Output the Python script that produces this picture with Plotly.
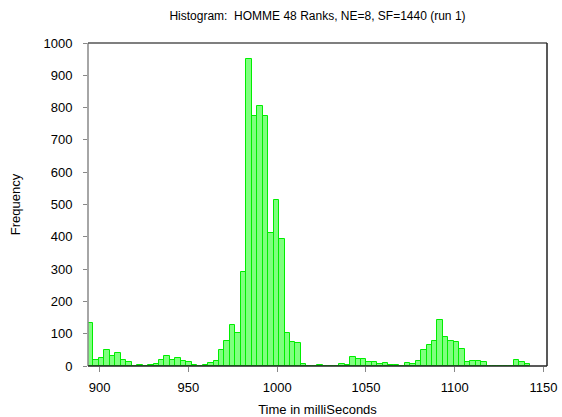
import plotly.graph_objects as go

# Histogram bins (regular width) and counts
bin_start = 893.4
bin_width = 3.076
counts = [
    134, 18, 24, 51, 31, 41, 18, 13, 0, 2,
    0, 2, 5, 20, 31, 18, 24, 15, 12, 2,
    0, 3, 9, 16, 49, 77, 128, 101, 291, 950,
    773, 805, 775, 412, 515, 393, 101, 75, 70, 6,
    0, 0, 3, 0, 0, 0, 6, 2, 27, 21,
    21, 13, 11, 6, 8, 2, 2, 0, 8, 5,
    15, 49, 64, 77, 142, 89, 77, 74, 52, 12,
    16, 16, 11, 0, 0, 0, 0, 0, 19, 13,
    6,
]
x_ticks = [900, 950, 1000, 1050, 1100, 1150]
y_ticks = [0, 100, 200, 300, 400, 500, 600, 700, 800, 900, 1000]

centers = [bin_start + bin_width * (i + 0.5) for i in range(len(counts))]

fig = go.Figure()
fig.add_trace(go.Bar(
    x=centers, y=counts, width=[bin_width] * len(counts),
    marker=dict(color="rgba(0,255,0,0.5)", line=dict(color="#00ee00", width=1)),
))

font = "Liberation Sans, Arial, sans-serif"
fig.update_layout(
    width=562, height=417,
    margin=dict(l=88, r=15, t=43, b=51, autoexpand=False),
    paper_bgcolor="white", plot_bgcolor="white",
    showlegend=False, bargap=0,
    font=dict(family=font, size=13, color="black"),
    title=dict(text="Histogram:  HOMME 48 Ranks, NE=8, SF=1440 (run 1)",
               x=0.5, xref="paper", xanchor="center", y=0.962, yanchor="middle",
               font=dict(size=12)),
    xaxis=dict(range=[bin_start, 1152], tickvals=x_ticks, ticks="outside",
               ticklen=5, tickcolor="#888", showgrid=False, zeroline=False,
               showline=False, automargin=False, ticklabelstandoff=4,
               title=dict(text="Time in milliSeconds", font=dict(size=13), standoff=14)),
    yaxis=dict(range=[0, 1000], tickvals=y_ticks, ticks="outside",
               ticklen=4, tickcolor="#888", showgrid=False, zeroline=False,
               showline=False, automargin=False, ticklabelstandoff=8,
               title=dict(text="Frequency", font=dict(size=13), standoff=19)),
)
# frame
fig.add_shape(type="line", xref="paper", yref="paper", x0=0, x1=0, y0=0, y1=1,
              line=dict(color="#888", width=1.5))
fig.add_shape(type="line", xref="paper", yref="paper", x0=0, x1=1, y0=0, y1=0,
              line=dict(color="#222", width=1.5))
fig.add_shape(type="line", xref="paper", yref="paper", x0=0, x1=1, y0=1, y1=1,
              line=dict(color="#555", width=1.5))
fig.add_shape(type="line", xref="paper", yref="paper", x0=1, x1=1, y0=0, y1=1,
              line=dict(color="#222", width=1.5))

fig.write_html("out.html")
